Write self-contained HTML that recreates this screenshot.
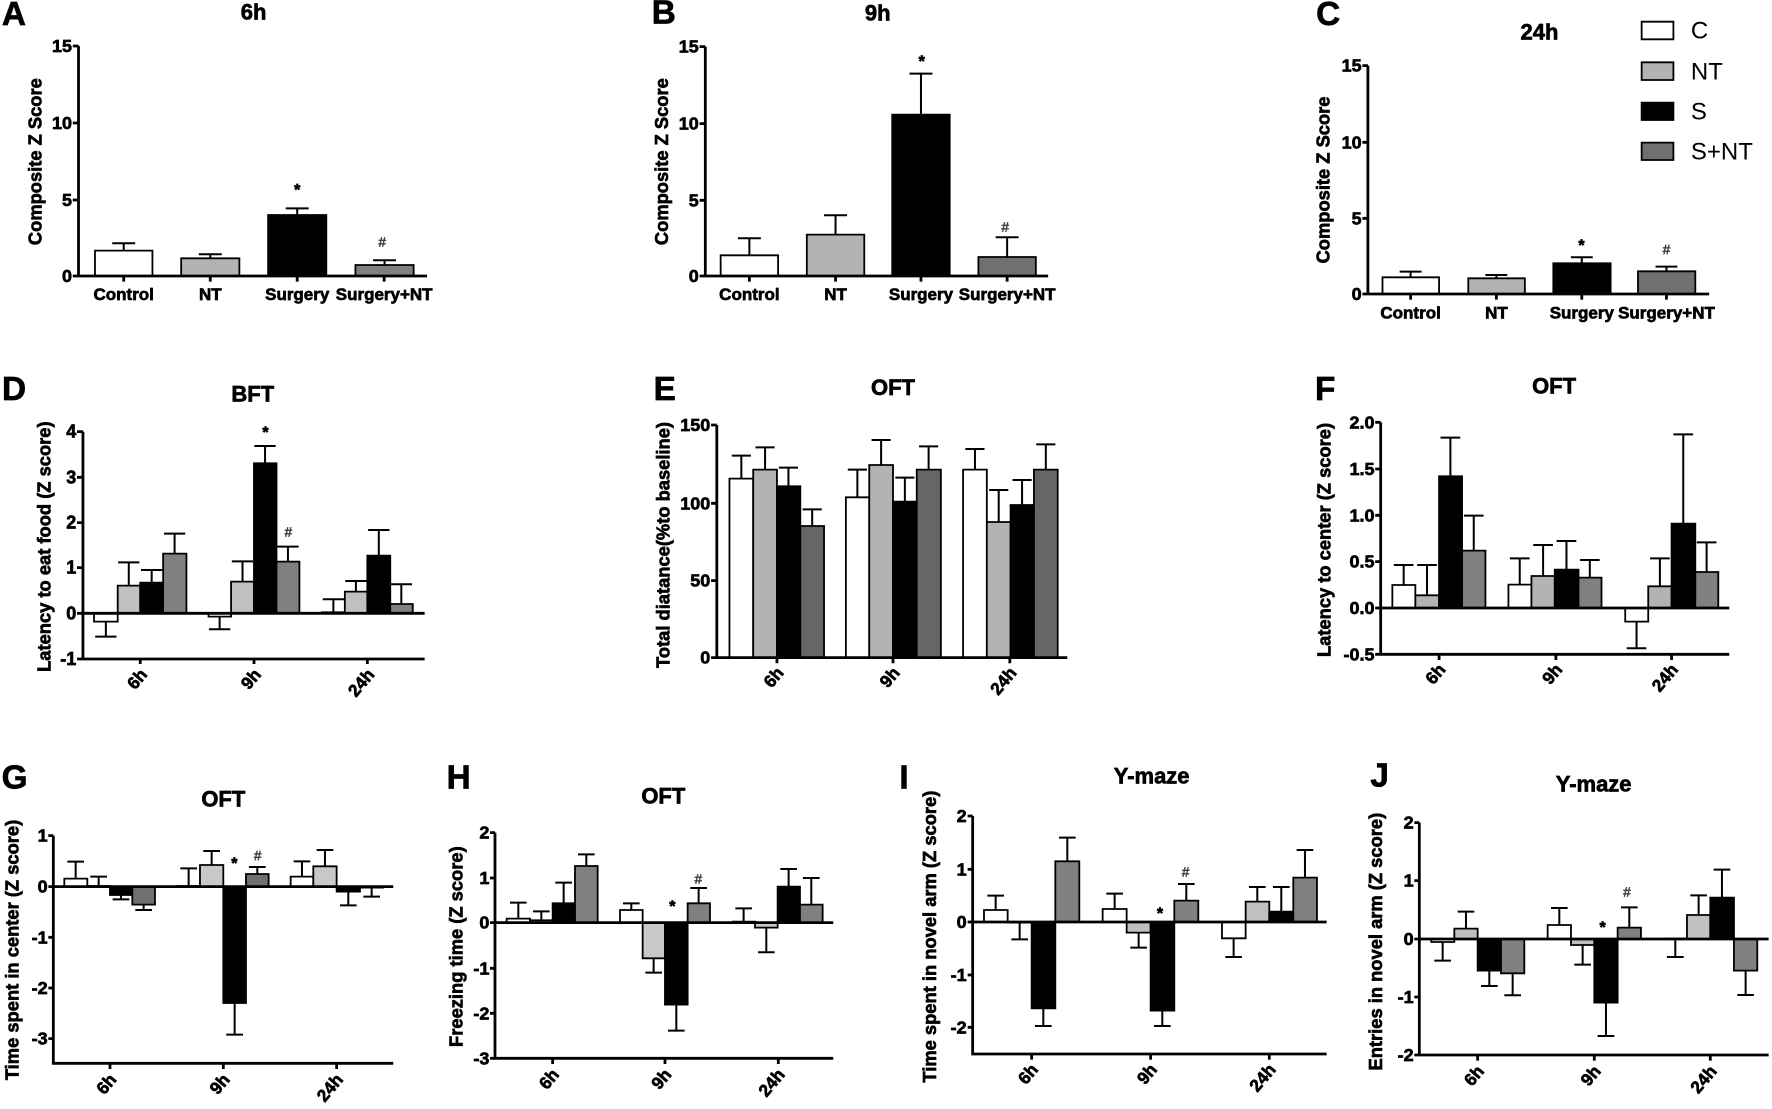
<!DOCTYPE html>
<html><head><meta charset="utf-8"><style>
html,body{margin:0;padding:0;background:#fff;}
svg{display:block}
text{font-family:"Liberation Sans",Arial,sans-serif;font-weight:bold;fill:#000;stroke:#000;stroke-width:2px}
.tk{font-size:54px;text-anchor:end}
.yl{font-size:55px;text-anchor:middle}
.tt{font-size:66px;text-anchor:middle}
.pl{font-size:100px}
.xl{font-size:51px;text-anchor:middle}
.xr{font-size:52px;text-anchor:end}
.st{font-size:48px;text-anchor:middle}
.hs{font-size:40px;text-anchor:middle;font-weight:normal;fill:#444;stroke:#444}
.lg{font-size:72px;font-weight:normal;stroke-width:0}
rect{stroke:#000;stroke-width:1.8px;vector-effect:non-scaling-stroke}
.e{fill:none;stroke:#000;stroke-width:2px;vector-effect:non-scaling-stroke}
.ax{fill:none;stroke:#000;stroke-width:2.8px;vector-effect:non-scaling-stroke}
.w{fill:#fff}.n{fill:#b3b3b3}.s{fill:#000}.sn{fill:#707070}
</style></head><body>
<svg width="1772" height="1109" viewBox="0 0 1772 1109" xmlns="http://www.w3.org/2000/svg">
<rect x="0" y="0" width="1772" height="1109" fill="#fff" style="stroke:none"/>

<!-- A -->
<g transform="translate(0,0) scale(0.383,0.3333)">
<rect class="w" x="248" y="752" width="150" height="76"/>
<rect class="n" x="473" y="775" width="152" height="53"/>
<rect class="s" x="700" y="645" width="152" height="183"/>
<rect class="sn" x="928" y="795" width="152" height="33" style="fill:#808080"/>
<path class="e" d="M323 752V730M293 730H353M549 775V763M519 763H579M776 645V625M746 625H806M1004 795V781M974 781H1034"/>
<path class="ax" d="M205 138V828H1115M190 138H205M190 369H205M190 600H205M190 828H205M323 828V845M549 828V845M776 828V845M1003 828V845"/>
<text class="pl" transform="translate(5 75) scale(.87 1)">A</text>
<text class="tt" transform="translate(662 58) scale(.87 1)">6h</text>
<text class="tk" transform="translate(188 156) scale(.87 1)">15</text>
<text class="tk" transform="translate(188 387) scale(.87 1)">10</text>
<text class="tk" transform="translate(188 618) scale(.87 1)">5</text>
<text class="tk" transform="translate(188 846) scale(.87 1)">0</text>
<text class="yl" transform="translate(108 485) scale(.87 1) rotate(-90)">Composite Z Score</text>
<text class="xl" transform="translate(323 900) scale(.87 1)">Control</text>
<text class="xl" transform="translate(549 900) scale(.87 1)">NT</text>
<text class="xl" transform="translate(776 900) scale(.87 1)">Surgery</text>
<text class="xl" transform="translate(1003 900) scale(.87 1)">Surgery+NT</text>
<text class="st" transform="translate(776 585) scale(.87 1)">*</text>
<text class="hs" transform="translate(998 740) scale(.87 1)">#</text>
</g>

<!-- B -->
<g transform="translate(600,0) scale(0.383,0.3333)">
<rect class="w" x="315" y="766" width="150" height="62"/>
<rect class="n" x="540" y="704" width="150" height="124"/>
<rect class="s" x="763" y="344" width="150" height="484"/>
<rect class="sn" x="988" y="771" width="150" height="57"/>
<path class="e" d="M390 766V715M360 715H420M615 704V646M585 646H645M838 344V221M808 221H868M1063 771V712M1033 712H1093"/>
<path class="ax" d="M275 140V828H1170M260 140H275M260 371H275M260 601H275M260 828H275M390 828V845M615 828V845M838 828V845M1063 828V845"/>
<text class="pl" transform="translate(135 70) scale(.87 1)">B</text>
<text class="tt" transform="translate(725 62) scale(.87 1)">9h</text>
<text class="tk" transform="translate(258 158) scale(.87 1)">15</text>
<text class="tk" transform="translate(258 389) scale(.87 1)">10</text>
<text class="tk" transform="translate(258 619) scale(.87 1)">5</text>
<text class="tk" transform="translate(258 846) scale(.87 1)">0</text>
<text class="yl" transform="translate(178 485) scale(.87 1) rotate(-90)">Composite Z Score</text>
<text class="xl" transform="translate(390 900) scale(.87 1)">Control</text>
<text class="xl" transform="translate(615 900) scale(.87 1)">NT</text>
<text class="xl" transform="translate(838 900) scale(.87 1)">Surgery</text>
<text class="xl" transform="translate(1063 900) scale(.87 1)">Surgery+NT</text>
<text class="st" transform="translate(840 200) scale(.87 1)">*</text>
<text class="hs" transform="translate(1058 695) scale(.87 1)">#</text>
</g>

<!-- C -->
<g transform="translate(1200,0) scale(0.365,0.3333)">
<rect class="w" x="500" y="832" width="155" height="50"/>
<rect class="n" x="735" y="835" width="155" height="47"/>
<rect class="s" x="968" y="790" width="157" height="92"/>
<rect class="sn" x="1200" y="814" width="157" height="68"/>
<path class="e" d="M577 832V815M547 815H607M812 835V825M782 825H842M1046 790V772M1016 772H1076M1278 814V800M1248 800H1308"/>
<path class="ax" d="M460 197V882H1395M445 197H460M445 427H460M445 655H460M445 882H460M577 882V899M812 882V899M1046 882V899M1278 882V899"/>
<text class="pl" transform="translate(318 75) scale(.913 1)">C</text>
<text class="tt" transform="translate(930 118) scale(.913 1)">24h</text>
<text class="tk" transform="translate(443 215) scale(.913 1)">15</text>
<text class="tk" transform="translate(443 445) scale(.913 1)">10</text>
<text class="tk" transform="translate(443 673) scale(.913 1)">5</text>
<text class="tk" transform="translate(443 900) scale(.913 1)">0</text>
<text class="yl" transform="translate(355 540) scale(.913 1) rotate(-90)">Composite Z Score</text>
<text class="xl" transform="translate(577 955) scale(.913 1)">Control</text>
<text class="xl" transform="translate(812 955) scale(.913 1)">NT</text>
<text class="xl" transform="translate(1046 955) scale(.913 1)">Surgery</text>
<text class="xl" transform="translate(1278 955) scale(.913 1)">Surgery+NT</text>
<text class="st" transform="translate(1045 752) scale(.913 1)">*</text>
<text class="hs" transform="translate(1278 762) scale(.913 1)">#</text>
<rect class="w" x="1210" y="65" width="87" height="53"/>
<rect class="n" x="1210" y="187" width="87" height="53"/>
<rect class="s" x="1210" y="308" width="87" height="52"/>
<rect class="sn" x="1210" y="428" width="87" height="52"/>
<text class="lg" transform="translate(1345 116) scale(.913 1)">C</text>
<text class="lg" transform="translate(1345 238) scale(.913 1)">NT</text>
<text class="lg" transform="translate(1345 358) scale(.913 1)">S</text>
<text class="lg" transform="translate(1345 478) scale(.913 1)">S+NT</text>
</g>

<!-- D -->
<g transform="translate(0,360) scale(0.395,0.3333)">
<rect class="w" x="238" y="760" width="60" height="25"/>
<rect class="n" x="298" y="677" width="57" height="83" style="fill:#c0c0c0"/>
<rect class="s" x="355" y="668" width="58" height="92"/>
<rect class="sn" x="413" y="581" width="59" height="179" style="fill:#808080"/>
<rect class="w" x="528" y="760" width="57" height="10"/>
<rect class="n" x="585" y="665" width="58" height="95" style="fill:#c0c0c0"/>
<rect class="s" x="643" y="310" width="57" height="450"/>
<rect class="sn" x="700" y="605" width="58" height="155" style="fill:#808080"/>
<rect class="w" x="815" y="757" width="58" height="3"/>
<rect class="n" x="873" y="695" width="57" height="65" style="fill:#c0c0c0"/>
<rect class="s" x="930" y="587" width="58" height="173"/>
<rect class="sn" x="988" y="732" width="57" height="28" style="fill:#808080"/>
<path class="e" d="M268 785V830M241 830H295M326 677V607M299 607H353M384 668V630M357 630H411M442 581V521M415 521H469M556 770V808M529 808H583M614 665V604M587 604H641M671 310V258M644 258H698M729 605V560M702 560H756M844 757V718M817 718H871M901 695V663M874 663H928M959 587V510M932 510H986M1016 732V673M989 673H1043"/>
<path class="ax" d="M210 215V897H1075M210 760H1075M195 215H210M195 352H210M195 488H210M195 623H210M195 760H210M195 897H210M355 897V912M643 897V912M930 897V912"/>
<text class="pl" transform="translate(5 120) scale(.844 1)">D</text>
<text class="tt" transform="translate(640 125) scale(.844 1)">BFT</text>
<text class="tk" transform="translate(193 233) scale(.844 1)">4</text>
<text class="tk" transform="translate(193 370) scale(.844 1)">3</text>
<text class="tk" transform="translate(193 506) scale(.844 1)">2</text>
<text class="tk" transform="translate(193 641) scale(.844 1)">1</text>
<text class="tk" transform="translate(193 778) scale(.844 1)">0</text>
<text class="tk" transform="translate(193 915) scale(.844 1)">-1</text>
<text class="yl" transform="translate(128 560) scale(.844 1) rotate(-90)">Latency to eat food (Z score)</text>
<text class="xr" transform="translate(375 945) scale(.844 1) rotate(-50)">6h</text>
<text class="xr" transform="translate(663 945) scale(.844 1) rotate(-50)">9h</text>
<text class="xr" transform="translate(950 945) scale(.844 1) rotate(-50)">24h</text>
<text class="st" transform="translate(672 232) scale(.844 1)">*</text>
<text class="hs" transform="translate(730 530) scale(.844 1)">#</text>
</g>

<!-- E -->
<g transform="translate(600,360) scale(0.383,0.3333)">
<rect class="w" x="338" y="356" width="62" height="537"/>
<rect class="n" x="400" y="329" width="62" height="564"/>
<rect class="s" x="462" y="379" width="61" height="514"/>
<rect class="sn" x="523" y="498" width="62" height="395" style="fill:#666"/>
<rect class="w" x="642" y="412" width="61" height="481"/>
<rect class="n" x="703" y="315" width="62" height="578"/>
<rect class="s" x="765" y="425" width="62" height="468"/>
<rect class="sn" x="827" y="329" width="63" height="564" style="fill:#666"/>
<rect class="w" x="948" y="329" width="62" height="564"/>
<rect class="n" x="1010" y="486" width="62" height="407"/>
<rect class="s" x="1072" y="435" width="61" height="458"/>
<rect class="sn" x="1133" y="329" width="62" height="564" style="fill:#666"/>
<path class="e" d="M369 356V287M344 287H394M431 329V262M406 262H456M492 379V323M467 323H517M554 498V448M529 448H579M672 412V329M647 329H697M734 315V240M709 240H759M796 425V353M771 353H821M858 329V259M833 259H883M979 329V267M954 267H1004M1041 486V390M1016 390H1066M1102 435V360M1077 360H1127M1164 329V253M1139 253H1189"/>
<path class="ax" d="M305 195V893M290 893H1220M290 195H305M290 430H305M290 662H305M462 893V910M765 893V910M1070 893V910"/>
<text class="pl" transform="translate(140 120) scale(.87 1)">E</text>
<text class="tt" transform="translate(765 105) scale(.87 1)">OFT</text>
<text class="tk" transform="translate(288 213) scale(.87 1)">150</text>
<text class="tk" transform="translate(288 448) scale(.87 1)">100</text>
<text class="tk" transform="translate(288 680) scale(.87 1)">50</text>
<text class="tk" transform="translate(288 911) scale(.87 1)">0</text>
<text class="yl" transform="translate(182 555) scale(.87 1) rotate(-90)">Total diatance(%to baseline)</text>
<text class="xr" transform="translate(482 940) scale(.87 1) rotate(-50)">6h</text>
<text class="xr" transform="translate(785 940) scale(.87 1) rotate(-50)">9h</text>
<text class="xr" transform="translate(1090 940) scale(.87 1) rotate(-50)">24h</text>
</g>

<!-- F -->
<g transform="translate(1200,360) scale(0.365,0.3333)">
<rect class="w" x="527" y="675" width="63" height="69"/>
<rect class="n" x="590" y="706" width="65" height="38"/>
<rect class="s" x="655" y="349" width="63" height="395"/>
<rect class="sn" x="718" y="572" width="64" height="172" style="fill:#808080"/>
<rect class="w" x="845" y="674" width="63" height="70"/>
<rect class="n" x="908" y="648" width="64" height="96"/>
<rect class="s" x="972" y="629" width="65" height="115"/>
<rect class="sn" x="1037" y="653" width="63" height="91" style="fill:#808080"/>
<rect class="w" x="1165" y="744" width="63" height="41"/>
<rect class="n" x="1228" y="679" width="64" height="65"/>
<rect class="s" x="1292" y="491" width="65" height="253"/>
<rect class="sn" x="1357" y="636" width="63" height="108" style="fill:#808080"/>
<path class="e" d="M558 675V615M531 615H585M622 706V615M595 615H649M686 349V233M659 233H713M750 572V467M723 467H777M876 674V595M849 595H903M940 648V555M913 555H967M1004 629V543M977 543H1031M1068 653V600M1041 600H1095M1196 785V865M1169 865H1223M1260 679V595M1233 595H1287M1324 491V223M1297 223H1351M1388 636V547M1361 547H1415"/>
<path class="ax" d="M495 187V883H1450M495 744H1450M480 187H495M480 327H495M480 466H495M480 605H495M480 744H495M480 883H495M655 883V900M975 883V900M1292 883V900"/>
<text class="pl" transform="translate(315 120) scale(.913 1)">F</text>
<text class="tt" transform="translate(970 100) scale(.913 1)">OFT</text>
<text class="tk" transform="translate(478 205) scale(.913 1)">2.0</text>
<text class="tk" transform="translate(478 345) scale(.913 1)">1.5</text>
<text class="tk" transform="translate(478 484) scale(.913 1)">1.0</text>
<text class="tk" transform="translate(478 623) scale(.913 1)">0.5</text>
<text class="tk" transform="translate(478 762) scale(.913 1)">0.0</text>
<text class="tk" transform="translate(478 901) scale(.913 1)">-0.5</text>
<text class="yl" transform="translate(357 540) scale(.913 1) rotate(-90)">Latency to center (Z score)</text>
<text class="xr" transform="translate(675 930) scale(.913 1) rotate(-50)">6h</text>
<text class="xr" transform="translate(995 930) scale(.913 1) rotate(-50)">9h</text>
<text class="xr" transform="translate(1312 930) scale(.913 1) rotate(-50)">24h</text>
</g>

<!-- G -->
<g transform="translate(0,740) scale(0.3333)">
<rect class="w" x="193" y="416" width="69" height="24"/>
<rect class="n" x="262" y="438" width="68" height="2"/>
<rect class="s" x="330" y="440" width="67" height="25"/>
<rect class="sn" x="397" y="440" width="68" height="54"/>
<rect class="w" x="532" y="438" width="68" height="2"/>
<rect class="n" x="600" y="375" width="70" height="65" style="fill:#c8c8c8"/>
<rect class="s" x="670" y="440" width="68" height="349"/>
<rect class="sn" x="738" y="402" width="68" height="38"/>
<rect class="w" x="872" y="410" width="68" height="30"/>
<rect class="n" x="940" y="379" width="70" height="61" style="fill:#c8c8c8"/>
<rect class="s" x="1010" y="440" width="70" height="15"/>
<rect class="sn" x="1080" y="440" width="70" height="3"/>
<path class="e" d="M227 416V365M202 365H252M296 438V410M271 410H321M363 465V478M338 478H388M431 494V510M406 510H456M566 438V385M541 385H591M635 375V333M610 333H660M704 789V884M679 884H729M772 402V381M747 381H797M906 410V364M881 364H931M975 379V330M950 330H1000M1045 455V496M1020 496H1070M1115 443V470M1090 470H1140"/>
<path class="ax" d="M160 287V970H1180M160 440H1180M145 287H160M145 440H160M145 592H160M145 744H160M145 896H160M330 970V987M670 970V987M1010 970V987"/>
<text class="pl" transform="translate(5 145)">G</text>
<text class="tt" transform="translate(670 200)">OFT</text>
<text class="tk" transform="translate(143 305)">1</text>
<text class="tk" transform="translate(143 458)">0</text>
<text class="tk" transform="translate(143 610)">-1</text>
<text class="tk" transform="translate(143 762)">-2</text>
<text class="tk" transform="translate(143 914)">-3</text>
<text class="yl" transform="translate(55 630) rotate(-90)">Time spent in center (Z score)</text>
<text class="xr" transform="translate(352 1020) rotate(-50)">6h</text>
<text class="xr" transform="translate(692 1020) rotate(-50)">9h</text>
<text class="xr" transform="translate(1032 1020) rotate(-50)">24h</text>
<text class="st" transform="translate(703 385)">*</text>
<text class="hs" transform="translate(773 360)">#</text>
</g>

<!-- H -->
<g transform="translate(440,740) scale(0.3333)">
<rect class="w" x="200" y="536" width="70" height="12"/>
<rect class="n" x="270" y="541" width="68" height="7" style="fill:#c8c8c8"/>
<rect class="s" x="338" y="490" width="67" height="58"/>
<rect class="sn" x="405" y="378" width="68" height="170" style="fill:#808080"/>
<rect class="w" x="540" y="510" width="68" height="38"/>
<rect class="n" x="608" y="548" width="67" height="107" style="fill:#c8c8c8"/>
<rect class="s" x="675" y="548" width="68" height="246"/>
<rect class="sn" x="743" y="490" width="67" height="58" style="fill:#808080"/>
<rect class="w" x="878" y="545" width="67" height="3"/>
<rect class="n" x="945" y="548" width="68" height="15" style="fill:#c8c8c8"/>
<rect class="s" x="1013" y="440" width="67" height="108"/>
<rect class="sn" x="1080" y="494" width="68" height="54" style="fill:#808080"/>
<path class="e" d="M235 536V488M210 488H260M304 541V514M279 514H329M371 490V428M346 428H396M439 378V343M414 343H464M574 510V490M549 490H599M641 655V698M616 698H666M709 794V872M684 872H734M776 490V444M751 444H801M911 545V505M886 505H936M979 563V637M954 637H1004M1046 440V387M1021 387H1071M1114 494V414M1089 414H1139"/>
<path class="ax" d="M165 278V955H1180M165 548H1180M150 278H165M150 414H165M150 548H165M150 685H165M150 820H165M150 955H165M338 955V972M675 955V972M1015 955V972"/>
<text class="pl" transform="translate(20 145)">H</text>
<text class="tt" transform="translate(670 190)">OFT</text>
<text class="tk" transform="translate(148 296)">2</text>
<text class="tk" transform="translate(148 432)">1</text>
<text class="tk" transform="translate(148 566)">0</text>
<text class="tk" transform="translate(148 703)">-1</text>
<text class="tk" transform="translate(148 838)">-2</text>
<text class="tk" transform="translate(148 973)">-3</text>
<text class="yl" transform="translate(68 620) rotate(-90)">Freezing time (Z score)</text>
<text class="xr" transform="translate(360 1005) rotate(-50)">6h</text>
<text class="xr" transform="translate(697 1005) rotate(-50)">9h</text>
<text class="xr" transform="translate(1037 1005) rotate(-50)">24h</text>
<text class="st" transform="translate(697 515)">*</text>
<text class="hs" transform="translate(775 430)">#</text>
</g>

<!-- I -->
<g transform="translate(880,740) scale(0.3333)">
<rect class="w" x="312" y="510" width="71" height="36"/>
<rect class="n" x="383" y="546" width="72" height="2"/>
<rect class="s" x="455" y="546" width="71" height="259"/>
<rect class="sn" x="526" y="364" width="72" height="182" style="fill:#808080"/>
<rect class="w" x="668" y="507" width="72" height="39"/>
<rect class="n" x="740" y="546" width="72" height="32" style="fill:#c0c0c0"/>
<rect class="s" x="812" y="546" width="71" height="266"/>
<rect class="sn" x="883" y="482" width="72" height="64" style="fill:#808080"/>
<rect class="w" x="1026" y="546" width="71" height="49"/>
<rect class="n" x="1097" y="485" width="71" height="61" style="fill:#c0c0c0"/>
<rect class="s" x="1168" y="515" width="72" height="31"/>
<rect class="sn" x="1240" y="413" width="71" height="133" style="fill:#808080"/>
<path class="e" d="M347 510V467M322 467H372M419 548V598M394 598H444M490 805V858M465 858H515M562 364V293M537 293H587M704 507V461M679 461H729M776 578V623M751 623H801M847 812V858M822 858H872M919 482V432M894 432H944M1061 595V651M1036 651H1086M1132 485V441M1107 441H1157M1204 515V441M1179 441H1229M1275 413V330M1250 330H1300"/>
<path class="ax" d="M278 228V942H1340M278 546H1340M263 228H278M263 388H278M263 546H278M263 705H278M263 862H278M455 942V959M812 942V959M1168 942V959"/>
<text class="pl" transform="translate(58 145)">I</text>
<text class="tt" transform="translate(815 130)">Y-maze</text>
<text class="tk" transform="translate(260 246)">2</text>
<text class="tk" transform="translate(260 406)">1</text>
<text class="tk" transform="translate(260 564)">0</text>
<text class="tk" transform="translate(260 723)">-1</text>
<text class="tk" transform="translate(260 880)">-2</text>
<text class="yl" transform="translate(168 590) rotate(-90)">Time spent in novel arm (Z score)</text>
<text class="xr" transform="translate(477 990) rotate(-50)">6h</text>
<text class="xr" transform="translate(834 990) rotate(-50)">9h</text>
<text class="xr" transform="translate(1190 990) rotate(-50)">24h</text>
<text class="st" transform="translate(840 535)">*</text>
<text class="hs" transform="translate(917 410)">#</text>
</g>

<!-- J -->
<g transform="translate(1322,740) scale(0.3333)">
<rect class="w" x="328" y="597" width="69" height="9"/>
<rect class="n" x="397" y="566" width="70" height="31" style="fill:#c0c0c0"/>
<rect class="s" x="467" y="597" width="70" height="95"/>
<rect class="sn" x="537" y="597" width="70" height="103" style="fill:#808080"/>
<rect class="w" x="677" y="555" width="70" height="42"/>
<rect class="n" x="747" y="597" width="70" height="18" style="fill:#c0c0c0"/>
<rect class="s" x="817" y="597" width="70" height="191"/>
<rect class="sn" x="887" y="563" width="70" height="34" style="fill:#808080"/>
<rect class="w" x="1025" y="596" width="70" height="1"/>
<rect class="n" x="1095" y="525" width="70" height="72" style="fill:#c0c0c0"/>
<rect class="s" x="1165" y="473" width="71" height="124"/>
<rect class="sn" x="1236" y="597" width="70" height="95" style="fill:#808080"/>
<path class="e" d="M362 606V662M337 662H387M432 566V515M407 515H457M502 692V738M477 738H527M572 700V766M547 766H597M712 555V504M687 504H737M782 615V674M757 674H807M852 788V888M827 888H877M922 563V502M897 502H947M1060 597V651M1035 651H1085M1130 525V466M1105 466H1155M1200 473V389M1175 389H1225M1271 692V765M1246 765H1296"/>
<path class="ax" d="M292 248V945H1340M292 597H1340M277 248H292M277 422H292M277 597H292M277 771H292M277 945H292M467 945V962M817 945V962M1165 945V962"/>
<text class="pl" transform="translate(145 140)">J</text>
<text class="tt" transform="translate(815 155)">Y-maze</text>
<text class="tk" transform="translate(275 266)">2</text>
<text class="tk" transform="translate(275 440)">1</text>
<text class="tk" transform="translate(275 615)">0</text>
<text class="tk" transform="translate(275 789)">-1</text>
<text class="tk" transform="translate(275 963)">-2</text>
<text class="yl" transform="translate(180 605) rotate(-90)">Entries in novel arm (Z score)</text>
<text class="xr" transform="translate(489 995) rotate(-50)">6h</text>
<text class="xr" transform="translate(839 995) rotate(-50)">9h</text>
<text class="xr" transform="translate(1187 995) rotate(-50)">24h</text>
<text class="st" transform="translate(842 578)">*</text>
<text class="hs" transform="translate(915 470)">#</text>
</g>
</svg>
</body></html>
